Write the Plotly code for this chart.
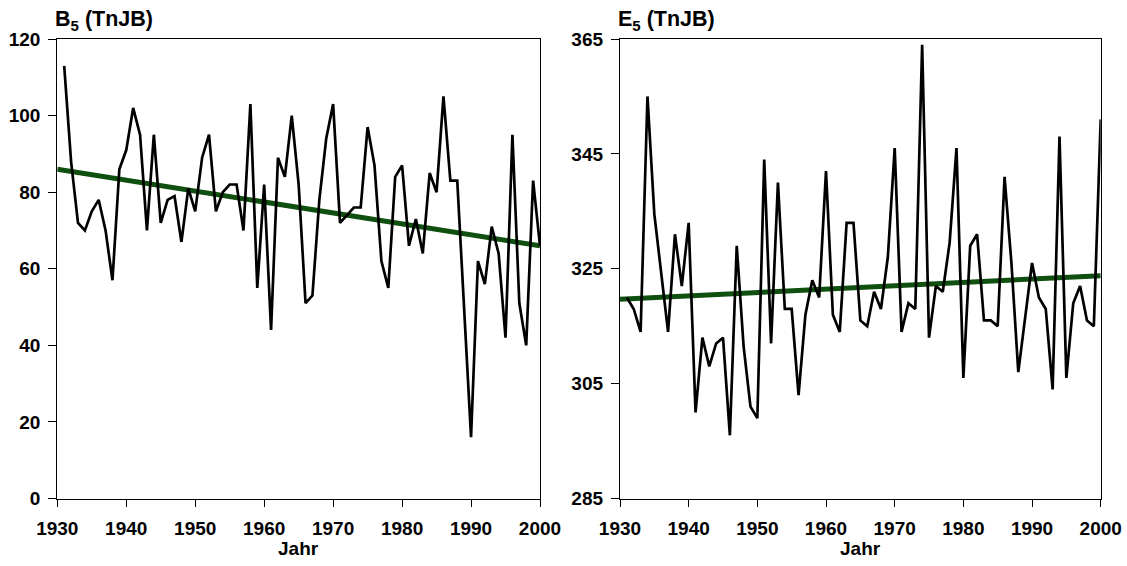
import plotly.graph_objects as go

years = list(range(1931, 2001))

b5_values = [113, 88, 72, 70, 75, 78, 70, 57, 86, 91,
             102, 95, 70, 95, 72, 78, 79, 67, 81, 75,
             89, 95, 75, 80, 82, 82, 70, 103, 55, 82,
             44, 89, 84, 100, 82, 51, 53, 78, 94, 103,
             72, 74, 76, 76, 97, 87, 62, 55, 84, 87,
             66, 73, 64, 85, 80, 105, 83, 83, 50, 16,
             62, 56, 71, 64, 42, 95, 51, 40, 83, 66]

e5_values = [320, 318, 314, 355, 334.5, 324, 314, 331, 322, 333,
             300, 313, 308, 312, 313, 296, 329, 311.5, 301, 299,
             344, 312, 340, 318, 318, 303, 317, 323, 320, 342,
             317, 314, 333, 333, 316, 315, 321, 318, 327, 346,
             314, 319, 318, 364, 313, 322, 321, 329.5, 346, 306,
             329, 331, 316, 316, 315, 341, 326, 307, 317, 326,
             320, 318, 304, 348, 306, 319, 322, 316, 315, 351]

trend_years = [1930, 2000]
b5_trend = [86, 66]
e5_trend = [319.7, 323.8]

x_ticks = [1930, 1940, 1950, 1960, 1970, 1980, 1990, 2000]
b5_ticks = [0, 20, 40, 60, 80, 100, 120]
e5_ticks = [285, 305, 325, 345, 365]

W, H = 1127, 566
FONT = "Liberation Sans"
DATA_COLOR = "#000000"
TREND_COLOR = "#0f4f0f"

fig = go.Figure()
fig.add_trace(go.Scatter(x=trend_years, y=b5_trend, mode="lines",
                         line=dict(color=TREND_COLOR, width=5),
                         xaxis="x", yaxis="y", showlegend=False))
fig.add_trace(go.Scatter(x=years, y=b5_values, mode="lines",
                         line=dict(color=DATA_COLOR, width=2.7),
                         xaxis="x", yaxis="y", showlegend=False))
fig.add_trace(go.Scatter(x=trend_years, y=e5_trend, mode="lines",
                         line=dict(color=TREND_COLOR, width=5),
                         xaxis="x2", yaxis="y2", showlegend=False))
fig.add_trace(go.Scatter(x=years, y=e5_values, mode="lines",
                         line=dict(color=DATA_COLOR, width=2.7),
                         xaxis="x2", yaxis="y2", showlegend=False))

tickfont = dict(family=FONT, size=19, color="black", weight="bold")

def xaxis(domain, anchor):
    return dict(domain=domain, anchor=anchor, range=[1930, 2000],
                tickmode="array", tickvals=x_ticks, ticks="outside",
                ticklen=7, tickwidth=1.3, tickcolor="black",
                showline=True, linecolor="black", linewidth=1.3, mirror=True,
                showgrid=False, zeroline=False, tickfont=tickfont,
                ticklabelstandoff=6, automargin=False)

def yaxis(domain, anchor, rng, ticks):
    return dict(domain=domain, anchor=anchor, range=rng,
                tickmode="array", tickvals=ticks, ticks="outside",
                ticklen=8, tickwidth=1.3, tickcolor="black",
                showline=True, linecolor="black", linewidth=1.3, mirror=True,
                showgrid=False, zeroline=False, tickfont=tickfont,
                ticklabelstandoff=4, automargin=False)

y_dom = [(H - 498.5) / H, (H - 39) / H]
x1_dom = [57.3 / W, 540 / W]
x2_dom = [620 / W, 1100.7 / W]

title_font = dict(family=FONT, size=21.5, color="black", weight="bold")
label_font = dict(family=FONT, size=19, color="black", weight="bold")

fig.update_layout(
    width=W, height=H,
    margin=dict(l=0, r=0, t=0, b=0, autoexpand=False),
    paper_bgcolor="white", plot_bgcolor="white",
    xaxis=xaxis(x1_dom, "y"),
    yaxis=yaxis(y_dom, "x", [0, 120], b5_ticks),
    xaxis2=xaxis(x2_dom, "y2"),
    yaxis2=yaxis(y_dom, "x2", [285, 365], e5_ticks),
    annotations=[
        dict(text="B<sub>5</sub> (TnJB)", xref="paper", yref="paper",
             x=53 / W, y=1 - 36 / H, xanchor="left", yanchor="bottom",
             showarrow=False, font=title_font),
        dict(text="E<sub>5</sub> (TnJB)", xref="paper", yref="paper",
             x=616 / W, y=1 - 36 / H, xanchor="left", yanchor="bottom",
             showarrow=False, font=title_font),
        dict(text="Jahr", xref="paper", yref="paper",
             x=(57.3 + 540) / 2 / W, y=1 - 548 / H, xanchor="center", yanchor="middle",
             showarrow=False, font=label_font),
        dict(text="Jahr", xref="paper", yref="paper",
             x=(620 + 1100.7) / 2 / W, y=1 - 548 / H, xanchor="center", yanchor="middle",
             showarrow=False, font=label_font),
    ],
)

fig.write_html("out.html")
